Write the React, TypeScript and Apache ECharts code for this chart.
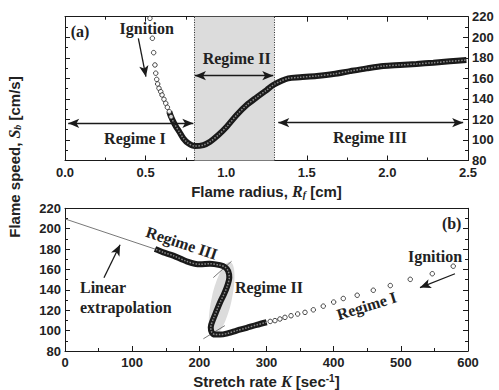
import React, { useEffect, useRef } from "react";
import * as echarts from "echarts";

// ---------- Data ----------
// Panel (a): flame speed vs flame radius
const topSparseR = [0.527, 0.542, 0.55, 0.558, 0.563, 0.569, 0.575, 0.583, 0.594, 0.602, 0.614, 0.625, 0.635, 0.647, 0.658];
const topSparseS = [218.4, 199, 185, 173, 165, 159, 154.5, 150.3, 147, 143.8, 139.6, 135.7, 131.8, 127.5, 122.6];
const topDenseR = [0.647, 0.658, 0.672, 0.689, 0.709, 0.734, 0.765, 0.806, 0.858, 0.9, 0.951, 1.003, 1.065, 1.127, 1.189, 1.251, 1.292, 1.344, 1.385, 1.458, 1.561, 1.665, 1.768, 1.872, 1.975, 2.078, 2.18, 2.285, 2.388, 2.49];
const topDenseS = [127.5, 122.6, 117.8, 112.9, 108, 101.6, 96.7, 94, 95, 98.3, 104.8, 112.9, 124.3, 134, 141.5, 148.6, 153.5, 157.7, 160, 161, 162.3, 164.2, 167, 169.7, 172, 173, 174, 175.2, 176.6, 177.8];
const regimeIIBand = [0.8, 1.3];

// Panel (b): flame speed vs stretch rate
const botSparseK = [578, 546.8, 514, 484.3, 459, 435, 414.3, 400, 384.5, 369.7, 357.3, 346.4, 336.5, 327.5, 320, 312.6, 305.5];
const botSparseS = [163.2, 155.8, 150.3, 144.2, 139.6, 134.7, 131.5, 128, 124, 120.4, 117.9, 116.3, 114.6, 113, 111.4, 109.8, 109];
const botDenseK = [300.3, 285.4, 270.5, 255.6, 243, 230.8, 223.3, 218.4, 217, 220.8, 225.8, 230.8, 236.7, 241.6, 244.6, 243, 238.2, 230.8, 215.9, 201, 181, 161.2, 146.3, 134];
const botDenseS = [108.2, 105.6, 102.7, 100, 97.5, 96.1, 96.1, 98.5, 103.3, 111.4, 119.5, 127.6, 135.7, 143.8, 152, 158.4, 162.3, 164.2, 165.6, 165, 168, 173.6, 176.8, 180];
const extrapK = [0, 134];
const extrapS = [209.6, 180];
const boundaryUpperK = [220.8, 248];
const boundaryUpperS = [152, 168];
const boundaryLowerK = [206, 238];
const boundaryLowerS = [92, 104.9];
const ellipseCenter = [233.3, 130.9];

// Tick ranges
const topXTicks = { min: 0, max: 2.5, interval: 0.5 };
const botXTicks = { min: 0, max: 600, interval: 100 };
const yTicks = { min: 80, max: 220, interval: 20 };

// Annotation arrows (data coords)
const topDoubleArrows = [
  [[0.02, 116.2], [0.796, 116.2]],
  [[0.806, 162.6], [1.292, 162.6]],
  [[1.323, 116.8], [2.47, 116.8]],
];
const topSingleArrows = [[[0.455, 199], [0.502, 161.6]]];
const botSingleArrows = [
  [[580.6, 155.8], [528.5, 142.2]],
  [[58, 151.9], [82, 184.3]],
];

// Annotation texts: [grid, text, x, y, rotation, align]
const annotations: [number, string, number, number, number, string][] = [
  [0, "(a)", 0.093, 205.4, 0, "center"],
  [0, "Ignition", 0.507, 208.7, 0, "center"],
  [0, "Regime I", 0.434, 101.6, 0, "center"],
  [0, "Regime II", 1.065, 179.5, 0, "center"],
  [0, "Regime III", 1.892, 102.6, 0, "center"],
  [1, "(b)", 575.7, 205.4, 0, "center"],
  [1, "Ignition", 551, 173, 0, "center"],
  [1, "Regime I", 449, 124.3, 0.3, "center"],
  [1, "Regime II", 253, 142.2, 0, "left"],
  [1, "Regime III", 173.7, 186, -0.32, "center"],
  [1, "Linear", 22.3, 142.2, 0, "left"],
  [1, "extrapolation", 22.3, 122.8, 0, "left"],
];

const zip = (a: number[], b: number[]) => a.map((v, i) => [v, b[i]]);

const SANS = "'Liberation Sans', Arial, sans-serif";
const SERIF = "'Liberation Serif', 'Times New Roman', serif";
const INK = "#1a1a1a";

function axisBase(extra: any) {
  return {
    type: "value",
    splitLine: { show: false },
    axisLine: { show: true, onZero: false, lineStyle: { color: INK, width: 1 } },
    axisTick: { show: true, inside: true, length: 5, lineStyle: { color: INK } },
    minorTick: { show: true, splitNumber: 2, length: 3, lineStyle: { color: INK } },
    axisLabel: {
      show: false,
      color: "#222",
      fontFamily: SANS,
      fontWeight: "bold",
      fontSize: 13,
    },
    ...extra,
  };
}

function arrowSeries(xi: number, yi: number, lines: number[][][], symbols: string[]) {
  return {
    type: "line",
    xAxisIndex: xi,
    yAxisIndex: yi,
    data: [],
    silent: true,
    z: 6,
    markLine: {
      silent: true,
      animation: false,
      symbol: symbols,
      symbolSize: [7, 11],
      label: { show: false },
      lineStyle: { color: INK, width: 1.3, type: "solid" },
      emphasis: { disabled: true },
      data: lines.map((l) => [{ coord: l[0] }, { coord: l[1] }]),
    },
  };
}

function buildOption() {
  const nameRich = {
    i: { fontFamily: SERIF, fontStyle: "italic", fontWeight: "bold", fontSize: 16, color: "#222" },
    sub: { fontFamily: SERIF, fontStyle: "italic", fontWeight: "bold", fontSize: 10, color: "#222", verticalAlign: "bottom", padding: [6, 0, 0, 0] },
    sup: { fontFamily: SANS, fontWeight: "bold", fontSize: 10, color: "#222", verticalAlign: "top", padding: [0, 0, 6, 0] },
  };
  const nameStyle = { fontFamily: SANS, fontWeight: "bold", fontSize: 15, color: "#222", rich: nameRich };

  return {
    animation: false,
    backgroundColor: "#fff",
    grid: [
      { left: 65, right: 31, top: 16.7, height: 143.8 },
      { left: 65, right: 31, top: 208.3, height: 144 },
    ],
    xAxis: [
      axisBase({
        gridIndex: 0, position: "bottom", ...topXTicks,
        axisLabel: { show: true, color: "#222", fontFamily: SANS, fontWeight: "bold", fontSize: 13, margin: 5, formatter: (v: number) => v.toFixed(1) },
        name: "Flame radius, {i|R}{sub|f} [cm]", nameLocation: "middle", nameGap: 23, nameTextStyle: nameStyle,
      }),
      axisBase({ gridIndex: 0, position: "top", ...topXTicks }),
      axisBase({
        gridIndex: 1, position: "bottom", ...botXTicks,
        axisLabel: { show: true, color: "#222", fontFamily: SANS, fontWeight: "bold", fontSize: 13, margin: 5 },
        name: "Stretch rate {i|K} [sec{sup|-1}]", nameLocation: "middle", nameGap: 22, nameTextStyle: nameStyle,
      }),
      axisBase({ gridIndex: 1, position: "top", ...botXTicks, axisTick: { show: false }, minorTick: { show: false } }),
    ],
    yAxis: [
      axisBase({ gridIndex: 0, position: "left", ...yTicks }),
      axisBase({
        gridIndex: 0, position: "right", ...yTicks,
        axisLabel: { show: true, color: "#222", fontFamily: SANS, fontWeight: "bold", fontSize: 13, margin: 4 },
      }),
      axisBase({
        gridIndex: 1, position: "left", ...yTicks,
        axisLabel: { show: true, color: "#222", fontFamily: SANS, fontWeight: "bold", fontSize: 13, margin: 4 },
      }),
      axisBase({ gridIndex: 1, position: "right", ...yTicks }),
    ],
    series: [
      // Panel (a) shading + dotted boundaries
      {
        type: "line", xAxisIndex: 0, yAxisIndex: 0, data: [], silent: true, z: 1,
        markArea: {
          silent: true,
          itemStyle: { color: "#dcdcdc" },
          data: [[{ xAxis: regimeIIBand[0] }, { xAxis: regimeIIBand[1] }]],
        },
        markLine: {
          silent: true, symbol: ["none", "none"], label: { show: false },
          lineStyle: { color: "#333", width: 1, type: [1, 1.5] },
          data: regimeIIBand.map((v) => ({ xAxis: v })),
        },
      },
      {
        type: "line", xAxisIndex: 0, yAxisIndex: 0, data: zip(topDenseR, topDenseS),
        showSymbol: false, smooth: 0.3, z: 3, silent: true,
        lineStyle: { color: INK, width: 6 },
      },
      {
        type: "line", xAxisIndex: 0, yAxisIndex: 0, data: zip(topDenseR, topDenseS),
        showSymbol: false, smooth: 0.3, z: 4, silent: true,
        lineStyle: { color: "#8a8a8a", width: 1.5, type: [1.5, 1.5] },
      },
      {
        type: "scatter", xAxisIndex: 0, yAxisIndex: 0, data: zip(topSparseR, topSparseS),
        symbol: "circle", symbolSize: 4.5, z: 5, silent: true,
        itemStyle: { color: "#fff", borderColor: INK, borderWidth: 1 },
      },
      arrowSeries(0, 0, topDoubleArrows, ["arrow", "arrow"]),
      arrowSeries(0, 0, topSingleArrows, ["none", "arrow"]),

      // Panel (b)
      {
        type: "custom", xAxisIndex: 2, yAxisIndex: 2, data: [ellipseCenter], z: 1, silent: true,
        renderItem: (params: any, api: any) => {
          const p = api.coord([api.value(0), api.value(1)]);
          return {
            type: "ellipse",
            x: p[0], y: p[1], rotation: -0.223,
            shape: { cx: 0, cy: 0, rx: 10, ry: 38 },
            style: { fill: "#dcdcdc" },
          };
        },
      },
      {
        type: "line", xAxisIndex: 2, yAxisIndex: 2, data: zip(extrapK, extrapS),
        showSymbol: false, z: 2, silent: true, lineStyle: { color: "#555", width: 0.8 },
      },
      {
        type: "line", xAxisIndex: 2, yAxisIndex: 2, data: zip(boundaryUpperK, boundaryUpperS),
        showSymbol: false, z: 2, silent: true, lineStyle: { color: "#555", width: 0.8 },
      },
      {
        type: "line", xAxisIndex: 2, yAxisIndex: 2, data: zip(boundaryLowerK, boundaryLowerS),
        showSymbol: false, z: 2, silent: true, lineStyle: { color: "#555", width: 0.8 },
      },
      {
        type: "line", xAxisIndex: 2, yAxisIndex: 2, data: zip(botDenseK, botDenseS),
        showSymbol: false, smooth: 0.3, z: 3, silent: true,
        lineStyle: { color: INK, width: 6 },
      },
      {
        type: "line", xAxisIndex: 2, yAxisIndex: 2, data: zip(botDenseK, botDenseS),
        showSymbol: false, smooth: 0.3, z: 4, silent: true,
        lineStyle: { color: "#8a8a8a", width: 1.5, type: [1.5, 1.5] },
      },
      {
        type: "scatter", xAxisIndex: 2, yAxisIndex: 2, data: zip(botSparseK, botSparseS),
        symbol: "circle", symbolSize: 4.5, z: 5, silent: true,
        itemStyle: { color: "#fff", borderColor: INK, borderWidth: 1 },
      },
      arrowSeries(2, 2, botSingleArrows, ["none", "arrow"]),
    ],
  };
}

export default function App() {
  const ref = useRef<HTMLDivElement>(null);
  useEffect(() => {
    document.body.style.margin = "0";
    if (!ref.current) return;
    const chart = echarts.init(ref.current, null, { renderer: "svg" });
    chart.setOption(buildOption());

    const graphics: any[] = annotations.map(([g, text, x, y, rot, align]) => {
      const p = chart.convertToPixel({ xAxisIndex: g === 0 ? 0 : 2, yAxisIndex: g === 0 ? 0 : 2 } as any, [x, y]) as number[];
      return {
        type: "text",
        x: p[0], y: p[1], rotation: rot, z: 10,
        style: {
          text, fill: "#222", fontFamily: SERIF, fontWeight: "bold", fontSize: 16,
          align, verticalAlign: "middle",
        },
      };
    });
    graphics.push({
      type: "text",
      x: 14, y: 157, rotation: Math.PI / 2, z: 10,
      style: {
        text: "Flame speed, {i|S}{sub|b} [cm/s]",
        fill: "#222", fontFamily: SANS, fontWeight: "bold", fontSize: 15,
        align: "center", verticalAlign: "middle",
        rich: {
          i: { fontFamily: SERIF, fontStyle: "italic", fontWeight: "bold", fontSize: 16, fill: "#222" },
          sub: { fontFamily: SERIF, fontStyle: "italic", fontWeight: "bold", fontSize: 10, fill: "#222", verticalAlign: "bottom", padding: [6, 0, 0, 0] },
        },
      },
    });
    chart.setOption({ graphic: graphics });
    return () => chart.dispose();
  }, []);
  return <div ref={ref} style={{ width: 499, height: 390 }} />;
}
